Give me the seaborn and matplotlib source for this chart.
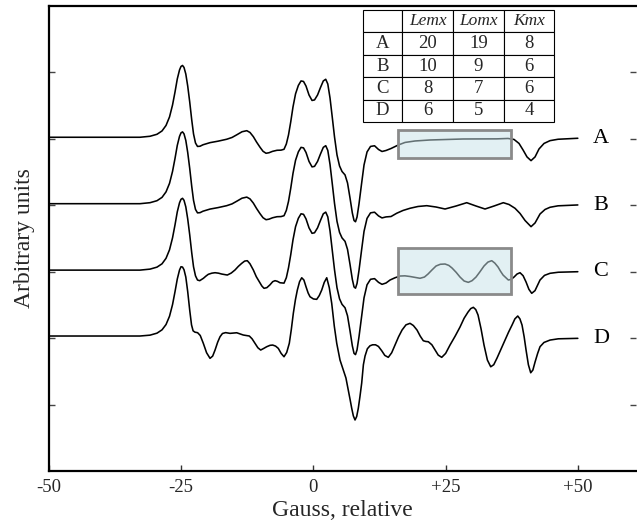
import matplotlib
matplotlib.use("Agg")
import matplotlib.pyplot as plt
from matplotlib.patches import Rectangle
import pandas as pd
import seaborn as sns

# ---- spectra (field offset in gauss, signal in arbitrary units) ----
a_x = [-50, -32.8, -30.9, -29.58, -28.63, -27.87, -27.21, -26.64, -26.17, -25.74,
       -25.32, -25.04, -24.75, -24.47, -24.13, -23.77, -23.39, -23.01, -22.67, -22.3,
       -21.92, -21.44, -20.88, -19.55, -18.04, -16.4, -15.39, -14.45, -13.5, -12.6,
       -11.99, -11.36, -10.76, -10.1, -9.53, -8.96, -8.4, -7.73, -6.88, -6.13,
       -5.56, -5.12, -4.71, -4.29, -3.86, -3.38, -2.85, -2.34, -1.87, -1.4,
       -0.83, -0.26, 0.21, 0.78, 1.34, 1.87, 2.33, 2.72, 3.14, 3.58,
       3.99, 4.46, 4.94, 5.41, 5.98, 6.45, 6.92, 7.36, 7.68, 7.96,
       8.25, 8.62, 9.1, 9.57, 10.14, 10.8, 11.56, 12.31, 12.97, 13.73,
       14.68, 16.06, 17.32, 19.21, 22.05, 28.3, 34.66, 36.8, 37.94, 38.88,
       39.64, 40.39, 41.15, 41.91, 42.66, 43.61, 44.74, 46.26, 50.0]
a_y = [0.024, 0.024, 0.039, 0.069, 0.119, 0.202, 0.330, 0.510, 0.706, 0.902,
       1.037, 1.090, 1.105, 1.075, 0.976, 0.795, 0.555, 0.285, 0.074, -0.062,
       -0.114, -0.111, -0.089, -0.057, -0.035, -0.006, 0.021, 0.063, 0.107, 0.123,
       0.096, 0.033, -0.047, -0.126, -0.187, -0.217, -0.209, -0.188, -0.172, -0.170,
       -0.157, -0.077, 0.059, 0.255, 0.481, 0.677, 0.804, 0.872, 0.864, 0.795,
       0.660, 0.578, 0.586, 0.660, 0.773, 0.872, 0.897, 0.826, 0.615, 0.315,
       0.029, -0.242, -0.408, -0.491, -0.543, -0.664, -0.890, -1.116, -1.229, -1.248,
       -1.176, -0.980, -0.679, -0.393, -0.197, -0.114, -0.104, -0.160, -0.190, -0.175,
       -0.145, -0.092, -0.054, -0.032, -0.017, -0.002, 0.0, 0.006, -0.009, -0.069,
       -0.167, -0.272, -0.328, -0.272, -0.152, -0.069, -0.027, -0.006, 0.009]

# B follows A up to ~14 G, then a gentle ripple
b_tail_x = [14.68, 15.75, 16.94, 18.27, 19.78, 21.43, 23.19, 24.89, 26.97, 28.99,
            30.75, 32.45, 34.15, 35.91, 36.99, 38.12, 39.07, 40.02, 41.15, 41.91,
            42.85, 43.8, 44.74, 46.26, 50.0]
b_tail_y = [-0.169, -0.120, -0.078, -0.045, -0.018, -0.006, -0.026, -0.056, -0.011, 0.039,
            -0.011, -0.056, -0.011, 0.039, 0.012, -0.045, -0.123, -0.229, -0.322, -0.266,
            -0.131, -0.063, -0.030, -0.008, 0.005]
b_x = a_x[:80] + b_tail_x
b_y = a_y[:80] + b_tail_y

# C has its own wings on both sides of the shared central structure
c_mid_x = [-21.92, -21.5, -20.8, -20.31, -19.87, -19.21, -18.6, -17.95, -17.34, -16.28,
           -15.54, -14.83, -14.2, -13.56, -13.0, -12.5, -12.0, -11.36, -10.8, -10.23,
           -9.75, -9.34, -8.8, -8.21, -7.7, -7.26, -6.8, -6.32, -5.56, -5.12]
c_mid_y = [-0.125, -0.135, -0.099, -0.065, -0.039, -0.022, -0.015, -0.022, -0.035, -0.050,
           -0.020, 0.026, 0.080, 0.126, 0.160, 0.166, 0.120, 0.026, -0.075, -0.151,
           -0.215, -0.250, -0.240, -0.197, -0.150, -0.135, -0.145, -0.166, -0.172, -0.090]
c_tail_x = [13.73, 14.49, 15.4, 16.38, 17.3, 18.27, 19.2, 20.16, 21.0, 21.67,
            22.4, 23.19, 24.0, 24.89, 25.6, 26.21, 27.0, 27.72, 28.5, 29.29,
            30.0, 30.75, 31.5, 32.26, 33.0, 33.72, 34.3, 34.91, 35.4, 35.86,
            36.86, 37.4, 37.94, 38.5, 39.07, 39.65, 40.21, 40.75, 41.28, 41.9,
            42.85, 43.7, 44.74, 46.3, 50.0]
c_tail_y = [-0.170, -0.125, -0.092, -0.065, -0.062, -0.072, -0.085, -0.099, -0.080, -0.035,
            0.025, 0.086, 0.112, 0.116, 0.095, 0.056, -0.010, -0.080, -0.140, -0.160,
            -0.135, -0.080, 0.000, 0.086, 0.145, 0.166, 0.130, 0.071, 0.005, -0.050,
            -0.125, -0.115, -0.080, -0.035, -0.015, -0.060, -0.155, -0.265, -0.325, -0.285,
            -0.125, -0.055, -0.024, -0.008, 0.0]
c_x = a_x[:20] + c_mid_x + a_x[42:79] + c_tail_x
c_y = a_y[:20] + c_mid_y + a_y[42:79] + c_tail_y

d_x = [-50, -32.8, -30.9, -29.58, -28.63, -27.87, -27.21, -26.64, -26.17, -25.74,
       -25.32, -25.04, -24.75, -24.47, -24.13, -23.77, -23.39, -23.05, -22.75, -22.4,
       -21.9, -21.4, -20.82, -20.2, -19.55, -19.05, -18.6, -18.1, -17.66, -17.2,
       -16.6, -15.77, -14.5, -13.26, -12.12, -11.6, -11.04, -10.5, -9.97, -9.4,
       -8.83, -8.2, -7.7, -7.15, -6.64, -6.1, -5.56, -5.05, -4.56, -4.18,
       -3.8, -3.4, -3.04, -2.62, -2.21, -1.8, -1.4, -1.0, -0.64, 0.0,
       0.62, 1.1, 1.57, 2.05, 2.52, 3.0, 3.46, 3.95, 4.41, 5.03,
       5.66, 6.15, 6.6, 6.95, 7.24, 7.55, 7.87, 8.18, 8.49, 8.8,
       9.13, 9.45, 9.76, 10.2, 10.7, 11.2, 11.74, 12.3, 12.92, 13.5,
       14.16, 14.8, 15.43, 16.1, 16.76, 17.5, 18.27, 18.9, 19.59, 20.2,
       20.78, 21.25, 21.73, 22.4, 23.0, 23.6, 24.26, 25.0, 25.83, 26.8,
       27.72, 28.5, 29.24, 29.75, 30.24, 30.7, 31.13, 31.7, 32.26, 32.9,
       33.53, 34.1, 34.72, 35.5, 36.23, 36.9, 37.56, 38.1, 38.64, 39.05,
       39.45, 39.85, 40.21, 40.65, 41.09, 41.5, 41.91, 42.4, 42.85, 43.6,
       44.74, 46.3, 50.0]
d_y = [0.032, 0.032, 0.045, 0.075, 0.125, 0.205, 0.330, 0.505, 0.700, 0.890,
       1.025, 1.075, 1.070, 1.030, 0.920, 0.700, 0.420, 0.200, 0.110, 0.090,
       0.082, 0.040, -0.078, -0.220, -0.304, -0.270, -0.179, -0.060, 0.021, 0.070,
       0.083, 0.072, 0.081, 0.047, 0.032, -0.010, -0.078, -0.145, -0.179, -0.155,
       -0.129, -0.108, -0.104, -0.120, -0.154, -0.230, -0.280, -0.215, -0.078, 0.130,
       0.373, 0.580, 0.724, 0.850, 0.909, 0.875, 0.774, 0.680, 0.623, 0.590,
       0.584, 0.640, 0.724, 0.840, 0.909, 0.760, 0.524, 0.180, -0.078, -0.330,
       -0.480, -0.600, -0.781, -0.930, -1.055, -1.170, -1.232, -1.180, -1.055, -0.880,
       -0.676, -0.400, -0.270, -0.160, -0.115, -0.100, -0.100, -0.125, -0.190, -0.260,
       -0.289, -0.220, -0.104, 0.020, 0.122, 0.200, 0.223, 0.190, 0.122, 0.030,
       -0.039, -0.050, -0.054, -0.100, -0.179, -0.255, -0.289, -0.230, -0.104, 0.030,
       0.167, 0.300, 0.393, 0.445, 0.464, 0.430, 0.348, 0.140, -0.104, -0.330,
       -0.431, -0.400, -0.300, -0.160, -0.029, 0.090, 0.197, 0.290, 0.333, 0.290,
       0.197, 0.020, -0.179, -0.400, -0.521, -0.480, -0.360, -0.230, -0.129, -0.065,
       -0.029, -0.010, -0.003]

samples = ["A", "B", "C", "D"]
offsets = [4, 3, 2, 1]

# ---- parameter table ----
table_samples = ["A", "B", "C", "D"]
table_header = ["", "Lemx", "Lomx", "Kmx"]
lemx = [20, 10, 8, 6]
lomx = [19, 9, 7, 5]
kmx = [8, 6, 6, 4]

# ---- highlighted field windows (gauss range, signal range) ----
windows = [((16.0, 37.37), (3.712, 4.133)),
           ((16.0, 37.37), (1.664, 2.357))]

x_ticks = [-50, -25, 0, 25, 50]
x_tick_labels = ["-50", "-25", "0", "+25", "+50"]

frames = []
for name, off, xs, ys in zip(samples, offsets, [a_x, b_x, c_x, d_x], [a_y, b_y, c_y, d_y]):
    frames.append(pd.DataFrame({"gauss": xs,
                                "signal": [v + off for v in ys],
                                "sample": name}))
df = pd.concat(frames, ignore_index=True)

sns.set_theme(style="ticks")
plt.rcParams["font.family"] = ["Liberation Serif", "DejaVu Serif"]

fig = plt.figure(figsize=(6.37, 5.25), dpi=100)
ax = fig.add_axes([49 / 637, 54 / 525, 587 / 637, 465 / 525])

sns.lineplot(data=df, x="gauss", y="signal", hue="sample",
             palette={s: "black" for s in samples}, sort=False, estimator=None,
             legend=False, linewidth=1.15, ax=ax, zorder=2,
             solid_joinstyle="round", solid_capstyle="round")

for (x0, x1), (y0, y1) in windows:
    ax.add_patch(Rectangle((x0, y0), x1 - x0, y1 - y0,
                           facecolor=(0.78, 0.886, 0.91, 0.5),
                           edgecolor="#8a8a8a", linewidth=2.0, zorder=3))

for name, off in zip(samples, offsets):
    ax.text(52.9, off, name, ha="left", va="center", fontsize=16, color="black")

cell_text = [[s, str(l1), str(l2), str(k)] for s, l1, l2, k in zip(table_samples, lemx, lomx, kmx)]
col_w = [39, 51, 51, 50]
tbl = ax.table(cellText=cell_text, colLabels=table_header, cellLoc="center",
               colWidths=[w / sum(col_w) for w in col_w],
               bbox=[0.535, 0.7505, 0.3254, 0.2409], zorder=5)
tbl.auto_set_font_size(False)
tbl.set_fontsize(13.5)
for (r, c), cell in tbl.get_celld().items():
    cell.set_linewidth(0.8)
    cell.set_edgecolor("black")
    cell.set_facecolor("white")
    if r == 0:
        cell.get_text().set_fontstyle("italic")
        cell.get_text().set_fontsize(12.5)

ax.set_xlim(-50, 61)
ax.set_ylim(-1, 6)
ax.set_xticks(x_ticks, x_tick_labels)
ax.set_yticks([0, 1, 2, 3, 4, 5])
ax.set_yticklabels([])

for side in ["left", "bottom", "top"]:
    ax.spines[side].set_linewidth(1.6)
    ax.spines[side].set_color("black")
ax.spines["right"].set_visible(False)

ax.tick_params(axis="x", direction="in", length=4, width=1, color="#333333",
               labelsize=13.5, pad=6, top=False)
ax.tick_params(axis="y", direction="in", length=4, width=1, color="#444444",
               left=True, right=True, labelleft=False)

ax.set_xlabel("Gauss, relative", fontsize=17, labelpad=3)
ax.set_ylabel("Arbitrary units", fontsize=17, labelpad=10)

fig.savefig("out.png", dpi=100)
